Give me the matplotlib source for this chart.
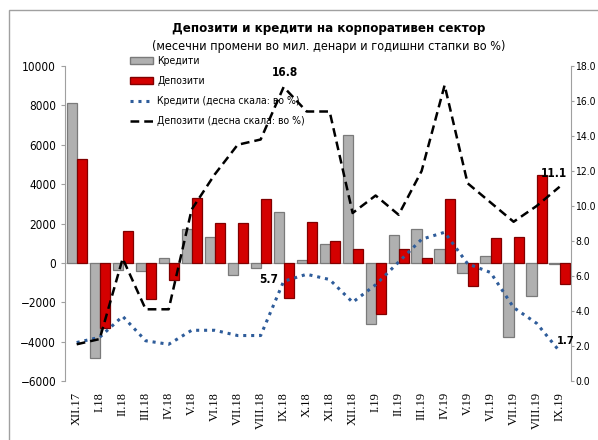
import numpy as np
import matplotlib.pyplot as plt
from matplotlib.patches import Rectangle
from matplotlib.lines import Line2D

months = ['XII.17', 'I.18', 'II.18', 'III.18', 'IV.18', 'V.18', 'VI.18', 'VII.18',
          'VIII.18', 'IX.18', 'X.18', 'XI.18', 'XII.18', 'I.19', 'II.19', 'III.19',
          'IV.19', 'V.19', 'VI.19', 'VII.19', 'VIII.19', 'IX.19']

# monthly changes, mln denars
credits = [8100, -4850, -350, -400, 250, 1700, 1300, -600, -250, 2600, 150, 950,
           6500, -3100, 1400, 1700, 700, -500, 350, -3750, -1700, -50]
deposits = [5300, -3300, 1600, -1850, -850, 3300, 2050, 2050, 3250, -1800, 2100, 1100,
            700, -2600, 700, 250, 3250, -1150, 1250, 1300, 4450, -1050]

# annual growth rates, % (right scale)
credits_rate = [2.2, 2.5, 3.7, 2.3, 2.1, 2.9, 2.9, 2.6, 2.6, 5.7, 6.1, 5.8,
                4.5, 5.5, 6.8, 8.1, 8.5, 6.7, 6.2, 4.2, 3.3, 1.7]
deposits_rate = [2.1, 2.4, 7.0, 4.1, 4.1, 9.8, 11.8, 13.5, 13.8, 16.8, 15.4, 15.4,
                 9.6, 10.6, 9.5, 12.0, 16.9, 11.3, 10.2, 9.1, 10.0, 11.1]

narrow = ['Liberation Sans Narrow', 'DejaVu Sans']
plt.rcParams['font.family'] = narrow
plt.rcParams['font.stretch'] = 'condensed'

fig = plt.figure(figsize=(5.98, 4.4), dpi=100)
ax = fig.add_axes([0.109, 0.134, 0.846, 0.716])
ax2 = ax.twinx()

x = np.arange(len(months))
w = 0.44
ax.bar(x - w / 2, credits, w, color='#b0b0b0', edgecolor='#7a7a7a', linewidth=0.9,
       label='Кредити', zorder=2)
ax.bar(x + w / 2, deposits, w, color='#d40000', edgecolor='#800000', linewidth=0.9,
       label='Депозити', zorder=2)
ax.axhline(0, color='#c8c8c8', linewidth=0.8, zorder=1)

ax2.plot(x, credits_rate, color='#2e5c9a', linestyle=(0, (1, 1.6)), linewidth=2.2,
         label='Кредити (десна скала: во %)')
ax2.plot(x, deposits_rate, color='black', linestyle=(0, (3.5, 2)), linewidth=1.8,
         label='Депозити (десна скала: во %)')

ax.set_xlim(-0.5, len(months) - 0.5)
ax.set_ylim(-6000, 10000)
ax.set_yticks(range(-6000, 10001, 2000))
ax2.set_ylim(0, 18)
ax2.set_yticks(np.arange(0, 18.1, 2))
ax2.set_yticklabels([f'{v:.1f}' for v in np.arange(0, 18.1, 2)])

ax.set_xticks(x)
ax.set_xticklabels(months, rotation=90, fontsize=9, family='Liberation Serif')
ax.tick_params(axis='x', length=0, pad=8)
ax.tick_params(axis='y', labelsize=8.5, length=3, color='#a0a0a0')
ax2.tick_params(axis='y', labelsize=7.5, length=2, color='#a0a0a0', pad=1)

for a in (ax, ax2):
    for s in ('top', 'bottom'):
        a.spines[s].set_visible(False)
    a.spines['left'].set_color('#a0a0a0')
    a.spines['right'].set_color('#a0a0a0')
ax.spines['right'].set_visible(False)
ax2.spines['left'].set_visible(False)

# labels on the lines
ax2.annotate('16.8', (9, deposits_rate[9]), xytext=(1, 6), textcoords='offset points',
             ha='center', va='bottom', fontsize=8.5, fontweight='bold')
ax2.annotate('5.7', (9, credits_rate[9]), xytext=(-4, 1), textcoords='offset points',
             ha='right', va='center', fontsize=8.5, fontweight='bold')
ax2.annotate('11.1', (21, deposits_rate[21]), xytext=(-4, 5), textcoords='offset points',
             ha='center', va='bottom', fontsize=8.5, fontweight='bold')
ax2.annotate('1.7', (21, credits_rate[21]), xytext=(-2, 4), textcoords='offset points',
             ha='left', va='bottom', fontsize=8, fontweight='bold')

handles = [Rectangle((0, 0), 1, 1, facecolor='#b0b0b0', edgecolor='#7a7a7a'),
           Rectangle((0, 0), 1, 1, facecolor='#d40000', edgecolor='#800000'),
           Line2D([], [], color='#2e5c9a', linestyle=(0, (1, 1.6)), linewidth=2.2),
           Line2D([], [], color='black', linestyle=(0, (3.5, 2)), linewidth=1.8)]
labels = ['Кредити', 'Депозити', 'Кредити (десна скала: во %)', 'Депозити (десна скала: во %)']
ax.legend(handles, labels, loc='upper left', bbox_to_anchor=(0.11, 1.06), frameon=False,
          fontsize=7.5, handlelength=2.2, labelspacing=0.95, handletextpad=0.4)

fig.text(0.55, 0.928, 'Депозити и кредити на корпоративен сектор', ha='center',
         fontsize=9.5, fontweight='bold')
fig.text(0.55, 0.886, '(месечни промени во мил. денари и годишни стапки во %)', ha='center',
         fontsize=9)

fig.patches.append(Rectangle((0.015, -0.05), 1.1, 1.027, transform=fig.transFigure,
                             fill=False, edgecolor='#a0a0a0', linewidth=1))

fig.savefig('out.png', dpi=100)
